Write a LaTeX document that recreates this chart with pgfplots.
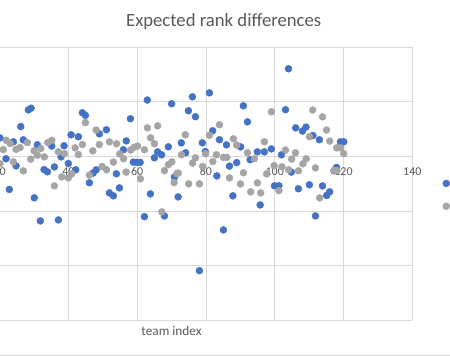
\documentclass[border=0pt]{standalone}
\usepackage{pgfplots}
\pgfplotsset{compat=1.18}
\usepackage{fontspec}
\setmainfont{Carlito}
\definecolor{sblue}{HTML}{4472C4}
\definecolor{sgray}{HTML}{A5A5A5}
\definecolor{gridc}{HTML}{D9D9D9}
\definecolor{txt}{HTML}{595959}

\pgfplotstableread{
x y
20.1 3.39
28.36 8.53
29.15 8.83
26.15 5.47
24.0 2.68
26.9 3.03
21.88 -0.44
24.79 -1.74
30.98 2.13
22.84 -6.06
30.08 -7.6
35.17 1.89
32.93 -2.42
33.89 -2.83
35.93 -1.93
38.75 1.94
37.88 -0.09
40.0 -1.32
40.79 3.96
42.91 3.6
44.07 8.0
44.95 7.52
42.15 -2.46
49.02 4.13
51.05 4.88
47.2 -3.06
48.06 -2.48
46.11 -4.84
53.96 -3.19
54.84 -5.78
51.93 -6.7
53.09 -7.23
56.84 2.84
56.0 1.21
58.04 6.9
62.95 10.33
70.02 9.65
58.9 -1.05
59.9 -1.1
60.86 -1.1
65.95 0.83
67.11 0.29
65.02 -0.26
69.09 1.76
63.85 -6.88
70.84 -3.8
71.91 -7.43
62.11 -11.05
67.93 -10.92
31.86 -11.83
37.09 -11.65
78.11 -20.95
85.09 -13.49
87.83 -7.23
83.17 -3.58
86.84 -1.78
76.07 10.92
81.02 11.65
74.91 8.37
76.95 7.27
72.84 2.48
74.09 0.66
78.95 2.48
81.95 4.7
83.93 3.05
85.97 2.11
79.83 0.88
90.88 9.27
92.07 6.33
90.09 1.74
92.86 -0.62
88.93 -1.14
94.95 0.83
96.99 0.83
99.02 1.38
101.96 0.29
103.13 8.55
104.0 16.06
106.09 5.23
108.07 4.64
109.09 5.38
111.1 3.82
112.99 3.05
119.1 2.66
120.06 2.66
95.77 -8.9
99.93 -5.39
101.21 -5.39
106.88 -5.94
110.08 -5.21
113.89 -5.41
115.11 -7.16
115.98 -6.5
111.85 -10.92
104.84 -2.88
117.24 -2.64
117.97 -2.02
}\blueset

\pgfplotstableread{
x y
21.09 1.25
21.88 2.95
23.04 2.35
24.0 -1.01
24.79 1.3
25.95 1.61
26.91 -2.66
28.07 2.53
29.06 -0.5
30.02 1.01
30.98 0.2
31.97 1.43
33.02 -0.09
34.01 2.53
35.17 2.95
35.93 -5.41
37.09 0.83
38.08 -3.76
38.84 0.51
40.0 -3.94
40.99 -3.21
41.95 1.56
42.91 0.33
44.07 2.17
44.95 6.2
46.11 -3.43
47.1 1.01
48.06 4.83
49.02 2.17
49.81 -1.87
51.11 -2.46
51.93 2.66
53.09 -1.05
54.02 2.31
54.95 0.46
56.06 -0.44
56.79 -2.88
58.1 1.16
59.1 1.67
60.13 1.89
60.95 -4.11
62.11 1.21
62.98 5.23
63.91 3.41
65.02 2.31
65.95 5.6
67.93 -2.61
69.09 -1.5
70.08 -1.01
70.75 -4.81
71.54 -3.16
67.17 -10.18
71.97 -3.06
74.97 -5.03
78.11 -5.03
76.11 -1.23
79.04 -1.83
74.0 3.96
72.87 0.29
76.94 -0.26
81.02 3.87
83.93 5.8
79.91 0.48
82.0 -0.95
83.02 0.29
85.09 -0.18
86.08 -0.18
87.97 3.23
88.93 2.07
92.07 0.66
94.08 -0.44
96.99 2.68
99.05 8.18
86.84 -3.94
90.91 -3.01
90.04 -5.05
93.0 -6.51
94.95 -4.86
95.91 -6.7
97.66 -3.21
99.84 -1.69
102.08 -1.91
101.21 -6.28
104.06 -2.46
106.91 -2.64
108.19 -1.36
109.15 -0.44
104.93 -0.5
106.03 0.66
103.13 1.16
110.11 3.6
111.04 8.5
111.85 -2.11
113.07 -7.61
113.89 7.25
115.05 4.83
116.0 2.81
117.24 -2.57
118.09 -2.61
118.03 1.58
119.2 1.58
120.06 0.51
20.13 -1.32
}\grayset

\begin{document}
\begin{tikzpicture}
\useasboundingbox (0,0) rectangle (450bp,356bp);
\clip (0,0) rectangle (450bp,356bp);
\draw[gridc, line width=0.75bp] (0,1bp) -- (450bp,1bp);
\begin{axis}[
  at={(-69.2bp,36bp)}, anchor=south west,
  scale only axis, width=481.5bp, height=272.7bp,
  xmin=0, xmax=140, ymin=-30, ymax=20,
  xtick={0,20,...,140}, ytick={-30,-20,...,20},
  yticklabels={},
  axis x line*=middle, axis y line*=left,
  y axis line style={draw=none},
  x axis line style={gridc, line width=0.75bp},
  major tick length=0pt,
  grid=major, grid style={gridc, line width=0.75bp},
  /pgf/number format/assume math mode=true,
  xticklabel style={font=\fontsize{12bp}{14bp}\selectfont, text=txt, anchor=base, yshift=-19bp},
  title={Expected rank differences},
  title style={at={(axis description cs:0.6083,1.0769)}, anchor=base, yshift=-6pt, font=\fontsize{18.7bp}{22bp}\selectfont, text=txt},
  xlabel={team index},
  xlabel style={at={(axis description cs:0.5,-0.058)}, anchor=base, font=\fontsize{13.3bp}{16bp}\selectfont, text=txt},
  legend image code/.code={\draw[#1] plot coordinates {(0bp,0bp)};},
  legend cell align=left,
  legend style={at={(axis cs:148.8,-7.05)}, anchor=west, draw=none, fill=none, inner sep=0pt,
    nodes={inner sep=0pt, font=\fontsize{12bp}{14bp}\selectfont, text=txt}, row sep=13bp},
]
\addplot[only marks, mark=*, mark size=3.5bp, color=sblue, mark options={fill=sblue, draw=sblue}] table {\blueset};
\addlegendentry{expected rank difference}
\addplot[only marks, mark=*, mark size=3.5bp, color=sgray, mark options={fill=sgray, draw=sgray}] table {\grayset};
\addlegendentry{simulated rank difference}
\end{axis}
\end{tikzpicture}
\end{document}
